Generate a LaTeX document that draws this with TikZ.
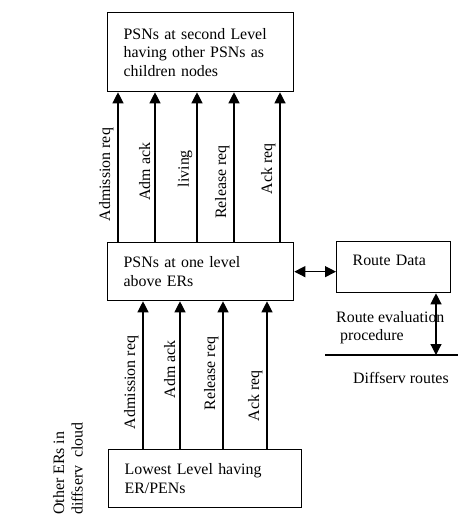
\documentclass[tikz,border=0pt]{standalone}
\usepackage{fontspec}
\setmainfont{Liberation Serif}
\usetikzlibrary{arrows.meta}

\begin{document}
\begin{tikzpicture}[
    x=1pt, y=-1pt,
    every node/.style={font=\fontsize{15.9}{18.5}\selectfont},
    box/.style={draw, line width=1.3pt, rectangle, align=left, inner xsep=16pt, anchor=north west},
    msg/.style={-{Triangle[width=11pt,length=11pt]}, line width=1.2pt},
    both/.style={{Triangle[width=11pt,length=11pt]}-{Triangle[width=11pt,length=11pt]}, line width=1.2pt},
    lbl/.style={sloped, above, inner sep=4pt},
    plain/.style={inner sep=0pt}
]

    \useasboundingbox (0,0) rectangle (459,519);

    % Levels of PSNs
    \node[box, text width=154pt, minimum height=79pt] (second) at (107,12) {PSNs at second Level\\having other PSNs as\\children nodes};
    \node[box, text width=154pt, minimum height=58pt] (first) at (107,242) {PSNs at one level\\above ERs};
    \node[box, text width=161pt, minimum height=58pt] (lowest) at (108,449) {Lowest Level having\\ER/PENs};

    % Route data
    \node[box, text width=82pt, minimum height=51pt, text depth=14pt] (route) at (336,241) {Route Data};

    % Messages between the levels
    \foreach \x/\t/\p in {118/Admission req/0.45, 155/Adm ack/0.47, 197/living/0.49, 234/Release req/0.40, 280/Ack req/0.49}
        \draw[msg] (first.north -| \x,0) -- node[lbl, pos=\p] {\t} (second.south -| \x,0);
    \foreach \x/\t/\p in {143/Admission req/0.45, 180/Adm ack/0.54, 223/Release req/0.51, 267/Ack req/0.36}
        \draw[msg] (lowest.north -| \x,0) -- node[lbl, pos=\p] {\t} (first.south -| \x,0);

    \draw[both] (first.east) -- (first.east -| route.west);

    % Route evaluation
    \coordinate (lineL) at (325,355);
    \coordinate (lineR) at (458,355);
    \coordinate (eval) at (436,355);
    \draw[line width=1.2pt] (lineL) -- (lineR);
    \draw[both] (route.south -| eval) -- (eval);

    \node[plain, anchor=west, align=left] (evaltext) at (336,327.5) {Route evaluation\\\ procedure};
    \node[plain, anchor=west] (routes) at (353,378) {Diffserv routes};

    % Edge routers
    \node[plain, rotate=90, anchor=north west, align=left] (others) at (53,515) {Other ERs in\\diffserv\ \ cloud};

\end{tikzpicture}
\end{document}
